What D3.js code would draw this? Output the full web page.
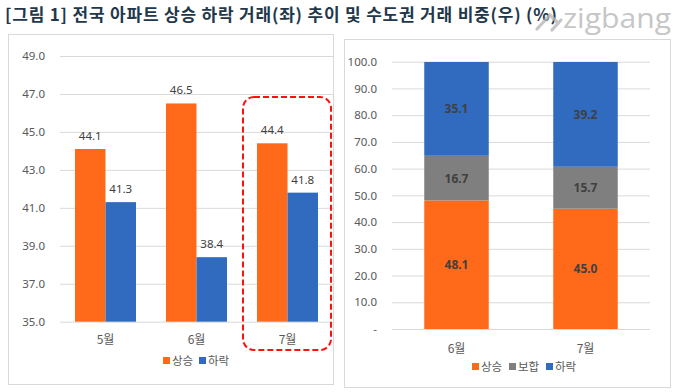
<!DOCTYPE html>
<html><head><meta charset="utf-8">
<script src="https://cdn.jsdelivr.net/npm/d3@7"></script>
<style>
html,body{margin:0;padding:0;background:#fff;}
svg{display:block;font-family:"Noto Sans CJK KR","Noto Sans",sans-serif;}
</style></head>
<body>
<svg id="c" width="680" height="392"></svg>
<script>
// ---- data ----
const titleText = "[그림 1] 전국 아파트 상승 하락 거래(좌) 추이 및 수도권 거래 비중(우) (%)";
const leftMonths = ["5월", "6월", "7월"];
const leftSeries = ["상승", "하락"];
const riseValues = [44.1, 46.5, 44.4];
const fallValues = [41.3, 38.4, 41.8];
const leftTicks = [35, 37, 39, 41, 43, 45, 47, 49];

const rightMonths = ["6월", "7월"];
const rightSeries = ["상승", "보합", "하락"];
const shareRise = [48.1, 45.0];
const shareFlat = [16.7, 15.7];
const shareFall = [35.1, 39.2];
const rightTicks = [0, 10, 20, 30, 40, 50, 60, 70, 80, 90, 100];

const colors = {"상승": "#ff6a1a", "하락": "#316bbf", "보합": "#7f7f7f"};

const svg = d3.select("#c");

// ---- title & logo ----
svg.append("text").attr("x", 5).attr("y", 21)
  .attr("font-size", 17).attr("font-weight", "bold").attr("fill", "#22384a")
  .attr("letter-spacing", 0.8)
  .text(titleText);
const logo = svg.append("g").attr("opacity", 0.8);
logo.append("path")
  .attr("d", "M537,29 L550,15 L557,22 M552,30 L561,20")
  .attr("fill", "none").attr("stroke", "#b8b8b8").attr("stroke-width", 3.2).attr("stroke-linecap", "round");
logo.append("text").attr("x", 563).attr("y", 28)
  .attr("font-size", 27).attr("font-family", "'Open Sans', Lato, sans-serif").attr("fill", "#b8b8b8")
  .attr("textLength", 108).attr("lengthAdjust", "spacingAndGlyphs")
  .text("zigbang");

// ---- panels ----
svg.append("rect").attr("x", 8.5).attr("y", 34.5).attr("width", 325).attr("height", 350)
  .attr("fill", "none").attr("stroke", "#d9d9d9");
svg.append("rect").attr("x", 344.5).attr("y", 39.5).attr("width", 326).attr("height", 348)
  .attr("fill", "none").attr("stroke", "#d9d9d9");

// ---- left chart ----
const yL = d3.scaleLinear().domain([35, 49]).range([321.7, 56]);
const xL = d3.scaleBand().domain(leftMonths).range([60, 333]).paddingInner(0.33).paddingOuter(0.165);
const xLs = d3.scaleBand().domain(leftSeries).range([0, xL.bandwidth()]);

const gL = svg.append("g");
const axL = gL.append("g").attr("transform", "translate(60,0)")
  .call(d3.axisLeft(yL).tickValues(leftTicks).tickFormat(d3.format(".1f")).tickSize(-273).tickPadding(15));
axL.select(".domain").remove();
axL.selectAll(".tick line").attr("stroke", "#d9d9d9");
axL.selectAll(".tick text").attr("fill", "#595959").attr("font-size", 11.5).attr("font-family", "'Noto Sans',sans-serif");

const leftData = leftMonths.map((m, i) => ({m, vals: [
  {s: "상승", v: riseValues[i]}, {s: "하락", v: fallValues[i]}]}));
const grpL = gL.selectAll(".grp").data(leftData).enter().append("g")
  .attr("transform", d => `translate(${xL(d.m)},0)`);
grpL.selectAll("rect").data(d => d.vals).enter().append("rect")
  .attr("x", d => xLs(d.s)).attr("width", xLs.bandwidth())
  .attr("y", d => yL(d.v)).attr("height", d => yL(35) - yL(d.v))
  .attr("fill", d => colors[d.s]);
grpL.selectAll("text.v").data(d => d.vals).enter().append("text")
  .attr("x", d => xLs(d.s) + xLs.bandwidth() / 2).attr("y", d => yL(d.v) - 9)
  .attr("text-anchor", "middle").attr("font-size", 11.5).attr("fill", "#404040")
  .attr("font-family", "'Noto Sans',sans-serif")
  .text(d => d.v.toFixed(1));
gL.selectAll("text.xl").data(leftMonths).enter().append("text")
  .attr("x", d => xL(d) + xL.bandwidth() / 2).attr("y", 344)
  .attr("text-anchor", "middle").attr("font-size", 12).attr("fill", "#595959").text(d => d);

// left legend
const legL = gL.append("g");
[[163, "상승"], [199, "하락"]].forEach(([x, s]) => {
  legL.append("rect").attr("x", x).attr("y", 357).attr("width", 7).attr("height", 7).attr("fill", colors[s]);
  legL.append("text").attr("x", x + 9).attr("y", 365).attr("font-size", 11.5).attr("fill", "#595959").text(s);
});

// red dashed highlight
gL.append("rect").attr("x", xL("7월") - 14).attr("y", 97).attr("width", 88).attr("height", 253)
  .attr("rx", 11).attr("fill", "none").attr("stroke", "#ff1010").attr("stroke-width", 2)
  .attr("stroke-dasharray", "6,3");

// ---- right chart ----
const yR = d3.scaleLinear().domain([0, 100]).range([329, 61.7]);
const xR = d3.scaleBand().domain(rightMonths).range([392, 650]).paddingInner(0.5).paddingOuter(0.25);
const gR = svg.append("g");
const axR = gR.append("g").attr("transform", "translate(392,0)")
  .call(d3.axisLeft(yR).tickValues(rightTicks).tickFormat(d => d === 0 ? "-" : d3.format(".1f")(d)).tickSize(-258).tickPadding(15));
axR.select(".domain").remove();
axR.selectAll(".tick line").attr("stroke", "#d9d9d9");
axR.selectAll(".tick text").attr("fill", "#595959").attr("font-size", 11.5).attr("font-family", "'Noto Sans',sans-serif");

const stackData = rightMonths.map((m, i) => ({m, "상승": shareRise[i], "보합": shareFlat[i], "하락": shareFall[i]}));
const stacked = d3.stack().keys(rightSeries)(stackData);
stacked.forEach(layer => {
  const g = gR.append("g");
  g.selectAll("rect").data(layer).enter().append("rect")
    .attr("x", d => xR(d.data.m)).attr("width", xR.bandwidth())
    .attr("y", d => yR(d[1])).attr("height", d => yR(d[0]) - yR(d[1]))
    .attr("fill", colors[layer.key]);
  g.selectAll("text").data(layer).enter().append("text")
    .attr("x", d => xR(d.data.m) + xR.bandwidth() / 2)
    .attr("y", d => yR((d[0] + d[1]) / 2) + 4.5)
    .attr("text-anchor", "middle").attr("font-size", 12).attr("font-weight", "bold")
    .attr("fill", "#404040").attr("font-family", "'Noto Sans',sans-serif")
    .text(d => (d[1] - d[0]).toFixed(1));
});
gR.selectAll("text.xl").data(rightMonths).enter().append("text")
  .attr("x", d => xR(d) + xR.bandwidth() / 2).attr("y", 353)
  .attr("text-anchor", "middle").attr("font-size", 12).attr("fill", "#595959").text(d => d);

const legR = gR.append("g");
[[472, "상승"], [509, "보합"], [546, "하락"]].forEach(([x, s]) => {
  legR.append("rect").attr("x", x).attr("y", 363).attr("width", 7).attr("height", 7).attr("fill", colors[s]);
  legR.append("text").attr("x", x + 9).attr("y", 371).attr("font-size", 11.5).attr("fill", "#595959").text(s);
});
</script>
</body></html>
